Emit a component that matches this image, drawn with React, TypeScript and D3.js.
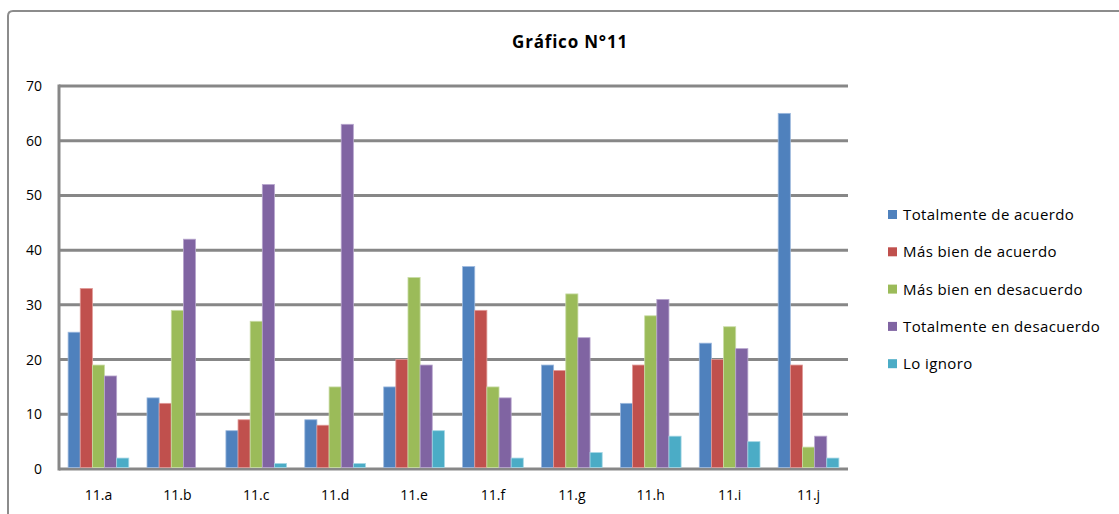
import React from "react";
import * as d3 from "d3";

const categories = ["11.a", "11.b", "11.c", "11.d", "11.e", "11.f", "11.g", "11.h", "11.i", "11.j"];
const seriesNames = [
  "Totalmente de acuerdo",
  "Más bien de acuerdo",
  "Más bien en desacuerdo",
  "Totalmente en desacuerdo",
  "Lo ignoro",
];
const totalmenteDeAcuerdo = [25, 13, 7, 9, 15, 37, 19, 12, 23, 65];
const masBienDeAcuerdo = [33, 12, 9, 8, 20, 29, 18, 19, 20, 19];
const masBienEnDesacuerdo = [19, 29, 27, 15, 35, 15, 32, 28, 26, 4];
const totalmenteEnDesacuerdo = [17, 42, 52, 63, 19, 13, 24, 31, 22, 6];
const loIgnoro = [2, 0, 1, 1, 7, 2, 3, 6, 5, 2];
const yTicks = [0, 10, 20, 30, 40, 50, 60, 70];
const colors = ["#4F81BD", "#C0504D", "#9BBB59", "#8064A2", "#4BACC6"];
const strokes = ["#9DB9DE", "#E09A98", "#C9DCA6", "#B7A6CE", "#A4D6E4"];

const seriesValues = [totalmenteDeAcuerdo, masBienDeAcuerdo, masBienEnDesacuerdo, totalmenteEnDesacuerdo, loIgnoro];

export default function App() {
  const W = 1119, H = 514;
  const left = 59, right = 848, top = 86, bottom = 469;
  const x0 = d3.scaleBand<string>().domain(categories).range([left, right]).paddingInner(0).paddingOuter(0);
  const cw = x0.bandwidth();
  const barW = cw / (5 + 1.5);
  const y = d3.scaleLinear().domain([0, 70]).range([bottom, top]);
  const font = "'Open Sans', 'Liberation Sans', sans-serif";
  const grid = "#878787";

  return (
    <svg width={W} height={H} style={{ position: "absolute", left: 0, top: 0, background: "#fff" }} fontFamily={font}>
      <path d={`M8,${H} L8,16 Q8,11 13,11 L${W},11`} fill="none" stroke="#8C8C8C" strokeWidth={2} />
      <text x={570} y={48} textAnchor="middle" fontSize={17} fontWeight="bold" letterSpacing={0.8} fill="#000">Gráfico N°11</text>
      {yTicks.map((t) => (
        <g key={t}>
          <line x1={left} x2={right} y1={y(t)} y2={y(t)} stroke={grid} strokeWidth={3} />
          <text x={42} y={y(t) + 5} textAnchor="end" fontSize={14} fill="#000">{t}</text>
        </g>
      ))}
      <line x1={left} x2={left} y1={top - 1.5} y2={bottom + 1.5} stroke={grid} strokeWidth={3} />
      {categories.map((c, i) => {
        const gx = (x0(c) as number) + barW * 0.75;
        return (
          <g key={c}>
            {seriesValues.map((vals, s) => {
              const v = vals[i];
              if (v <= 0) return null;
              return (
                <rect
                  key={s}
                  x={gx + s * barW}
                  y={y(v)}
                  width={barW}
                  height={bottom - 1.5 - y(v)}
                  fill={colors[s]}
                  stroke={strokes[s]}
                  strokeWidth={0.8}
                />
              );
            })}
            <text x={(x0(c) as number) + cw / 2} y={500} textAnchor="middle" fontSize={14} fill="#000">{c}</text>
          </g>
        );
      })}
      {seriesNames.map((n, s) => {
        const ly = 215 + s * 37.3;
        return (
          <g key={n}>
            <rect x={888} y={ly - 5} width={9} height={9} fill={colors[s]} />
            <text x={903} y={ly + 5} fontSize={15} letterSpacing={0.4} fill="#000">{n}</text>
          </g>
        );
      })}
    </svg>
  );
}
